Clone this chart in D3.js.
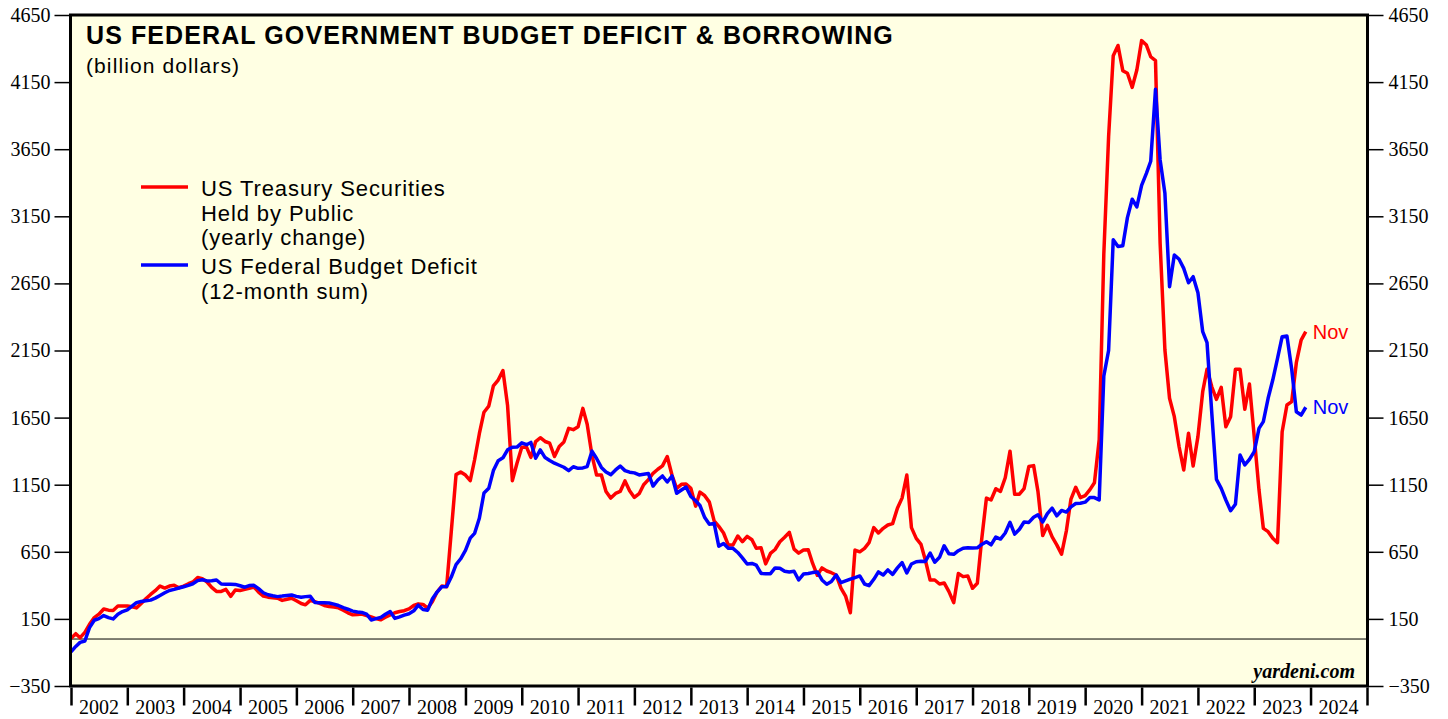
<!DOCTYPE html>
<html>
<head>
<meta charset="utf-8">
<title>US Federal Government Budget Deficit &amp; Borrowing</title>
<style>
  body { margin: 0; background: #fff; }
  .title { font-family: "Liberation Sans", Arial, sans-serif; font-weight: bold; font-size: 25px; letter-spacing: 1.1px; }
  .sub, .legend text, .endlabel { font-family: "Liberation Sans", Arial, sans-serif; }
  .sub { font-size: 21px; letter-spacing: 1.1px; }
  .legend text { font-size: 22px; letter-spacing: 0.9px; }
  .endlabel { font-size: 20px; }
  .axis text, .year { font-family: "Liberation Serif", "Times New Roman", serif; font-size: 20px; fill: #000; }
  .credit { font-family: "Liberation Serif", "Times New Roman", serif; font-weight: bold; font-style: italic; font-size: 20px; }
</style>
</head>
<body>
<script src="https://cdn.jsdelivr.net/npm/d3@7"></script>
<script>
  // monthly values, Dec 2001 .. Nov 2023 (plotted at month end)
  const firstMonth = new Date(2001, 11, 1);

  // US Treasury Securities held by public, yearly change (billion $)
  const treasury = [
    5, 40, 10, 50, 110, 160, 185, 224, 215, 212, 246, 246,
    246, 240, 232, 265, 300, 332, 360, 395, 380, 395, 400, 382,
    395, 412, 425, 458, 450, 425, 385, 355, 355, 370, 318, 365,
    362, 370, 378, 388, 350, 320, 312, 308, 304, 288, 296, 304,
    285, 265, 255, 288, 278, 265, 250, 242, 238, 232, 215, 195,
    180, 182, 186, 175, 165, 152, 143, 162, 180, 196, 205, 211,
    225, 250, 262, 258, 230, 280, 350, 395, 390, 800, 1225, 1245,
    1222, 1180, 1334, 1530, 1690, 1735, 1886, 1930, 2000, 1740, 1180, 1310,
    1429, 1430, 1354, 1471, 1500, 1472, 1459, 1360, 1435, 1468, 1570, 1560,
    1582, 1719, 1600, 1370, 1222, 1222, 1100, 1050, 1085, 1100, 1178, 1105,
    1055, 1083, 1150, 1188, 1235, 1265, 1290, 1360, 1220, 1123, 1153, 1155,
    1123, 990, 1095, 1068, 1020, 880, 840, 790, 700, 701, 768, 725,
    765, 740, 676, 680, 560, 638, 667, 725, 758, 795, 670, 640,
    663, 665, 565, 475, 530, 507, 494, 477, 380, 320, 196, 663,
    650, 676, 718, 830, 790, 825, 850, 860, 975, 1050, 1222, 830,
    750, 705, 589, 440, 440, 410, 418, 353, 271, 488, 465, 470,
    378, 415, 740, 1050, 1036, 1120, 1100, 1202, 1400, 1079, 1079, 1120,
    1285, 1292, 1100, 771, 848, 761, 702, 633, 805, 1043, 1131, 1054,
    1069, 1113, 1164, 1485, 2871, 3743, 4346, 4423, 4235, 4216, 4111, 4240,
    4459, 4426, 4339, 4310, 2949, 2154, 1794, 1657, 1433, 1260, 1533, 1289,
    1508, 1843, 2010, 1880, 1786, 1876, 1582, 1657, 2010, 2010, 1712, 1900,
    1508, 1110, 825, 800, 751, 718, 1545, 1744, 1769, 2059, 2228, 2290
  ];

  // US federal budget deficit, 12-month sum (billion $)
  const deficit = [
    -95, -55, -25, -15, 85, 140, 152, 175, 160, 150, 185, 205,
    218, 245, 271, 280, 285, 290, 305, 325, 345, 362, 370, 380,
    390, 400, 412, 435, 442, 433, 435, 440, 410, 408, 408, 407,
    397, 386, 398, 400, 375, 345, 330, 322, 316, 320, 325, 328,
    318, 311, 316, 318, 272, 271, 271, 269, 260, 250, 234, 222,
    208, 202, 198, 185, 142, 152, 160, 185, 205, 154, 165, 178,
    188, 210, 252, 220, 215, 300, 350, 390, 392, 462, 555, 598,
    660, 752, 787, 900, 1088, 1123, 1255, 1329, 1350, 1410, 1429, 1430,
    1462, 1448, 1465, 1347, 1409, 1352, 1330, 1310, 1295, 1280, 1255, 1284,
    1272, 1275, 1285, 1400, 1345, 1279, 1245, 1225, 1260, 1289, 1255, 1243,
    1238, 1223, 1228, 1233, 1140, 1185, 1215, 1170, 1215, 1086, 1110, 1133,
    1062, 1030, 995, 905, 855, 862, 692, 712, 676, 676, 645, 605,
    559, 563, 550, 489, 487, 487, 530, 528, 505, 500, 505, 440,
    484, 488, 495, 500, 440, 408, 428, 477, 420, 433, 446, 458,
    470, 410, 398, 445, 500, 477, 515, 482, 530, 570, 492, 559,
    576, 580, 578, 640, 572, 609, 695, 635, 631, 658, 676, 680,
    678, 680, 705, 725, 702, 760, 745, 790, 870, 782, 818, 872,
    869, 907, 926, 872, 935, 975, 918, 958, 946, 985, 1010, 1012,
    1020, 1054, 1054, 1036, 1960, 2150, 2975, 2925, 2930, 3140, 3277, 3220,
    3380, 3470, 3560, 4096, 3570, 3321, 2625, 2862, 2830, 2762, 2655, 2700,
    2581, 2290, 2209, 1682, 1190, 1123, 1036, 956, 1004, 1371, 1297, 1339,
    1396, 1570, 1620, 1794, 1930, 2092, 2253, 2258, 2010, 1694, 1669, 1727
  ];

  const yTicks = [-350, 150, 650, 1150, 1650, 2150, 2650, 3150, 3650, 4150, 4650];
  const yearLabels = ["2002", "2003", "2004", "2005", "2006", "2007", "2008", "2009", "2010", "2011", "2012",
    "2013", "2014", "2015", "2016", "2017", "2018", "2019", "2020", "2021", "2022", "2023", "2024"];
  const legendLabels = [
    ["US Treasury Securities", "Held by Public", "(yearly change)"],
    ["US Federal Budget Deficit", "(12-month sum)"]
  ];
  const lastLabel = "Nov";

  const width = 1448, height = 719;
  const plotL = 71, plotR = 1367, plotT = 15, plotB = 686;

  const svg = d3.select("body").append("svg")
    .attr("width", width)
    .attr("height", height);

  const x = d3.scaleTime()
    .domain([new Date(2002, 0, 1), new Date(2025, 0, 1)])
    .range([plotL, plotR]);
  const y = d3.scaleLinear()
    .domain([-350, 4650])
    .range([plotB, plotT]);

  const dateOf = i => d3.timeMonth.offset(firstMonth, i + 1);

  svg.append("rect")
    .attr("x", plotL).attr("y", plotT)
    .attr("width", plotR - plotL).attr("height", plotB - plotT)
    .attr("fill", "#ffffe3");

  svg.append("clipPath").attr("id", "plot")
    .append("rect")
    .attr("x", plotL).attr("y", plotT)
    .attr("width", plotR - plotL).attr("height", plotB - plotT);

  // zero line
  svg.append("line")
    .attr("x1", plotL).attr("x2", plotR)
    .attr("y1", y(0)).attr("y2", y(0))
    .attr("stroke", "#000").attr("stroke-width", 1);

  const line = d3.line()
    .x((d, i) => x(dateOf(i)))
    .y(d => y(d));

  const series = [
    {values: treasury, color: "#ff0000"},
    {values: deficit, color: "#0000ff"}
  ];

  svg.append("g").attr("clip-path", "url(#plot)")
    .selectAll("path")
    .data(series)
    .enter()
    .append("path")
    .attr("d", d => line(d.values))
    .attr("fill", "none")
    .attr("stroke", d => d.color)
    .attr("stroke-width", 3.5)
    .attr("stroke-linejoin", "round");

  // frame
  svg.append("rect")
    .attr("x", plotL - 0.5).attr("y", plotT)
    .attr("width", plotR - plotL + 1).attr("height", plotB - plotT)
    .attr("fill", "none")
    .attr("stroke", "#000")
    .attr("stroke-width", 3);

  // y axes, both sides
  const yl = svg.append("g").attr("class", "axis")
    .attr("transform", "translate(" + (plotL - 1.5) + ",0)")
    .call(d3.axisLeft(y).tickValues(yTicks).tickFormat(d3.format("d")).tickSize(15).tickPadding(4));
  const yr = svg.append("g").attr("class", "axis")
    .attr("transform", "translate(" + (plotR + 1.5) + ",0)")
    .call(d3.axisRight(y).tickValues(yTicks).tickFormat(d3.format("d")).tickSize(15).tickPadding(5));
  [yl, yr].forEach(g => {
    g.select(".domain").remove();
    g.attr("font-size", null).attr("font-family", null);
    g.selectAll(".tick line").attr("stroke", "#000").attr("stroke-width", 1.5);
  });

  // x axis: year ticks, labels centred in each year
  const xa = svg.append("g").attr("class", "axis")
    .attr("transform", "translate(0," + (plotB + 1.5) + ")")
    .call(d3.axisBottom(x).ticks(d3.timeYear.every(1)).tickSize(18).tickFormat(""));
  xa.select(".domain").remove();
  xa.selectAll(".tick line").attr("stroke", "#000").attr("stroke-width", 2.5);

  svg.append("g")
    .selectAll("text")
    .data(yearLabels)
    .enter()
    .append("text")
    .attr("class", "year")
    .attr("x", d => x(new Date(+d, 6, 1)))
    .attr("y", 714)
    .attr("text-anchor", "middle")
    .text(d => d);

  // titles
  svg.append("text").attr("class", "title")
    .attr("x", 86).attr("y", 44)
    .text("US FEDERAL GOVERNMENT BUDGET DEFICIT & BORROWING");
  svg.append("text").attr("class", "sub")
    .attr("x", 86).attr("y", 73)
    .text("(billion dollars)");

  // legend
  const legend = svg.append("g").attr("class", "legend");
  const legendY = [187, 265];
  legendLabels.forEach((lines, i) => {
    legend.append("line")
      .attr("x1", 141).attr("x2", 188)
      .attr("y1", legendY[i]).attr("y2", legendY[i])
      .attr("stroke", series[i].color)
      .attr("stroke-width", 3.5);
    lines.forEach((t, j) => {
      legend.append("text")
        .attr("x", 201)
        .attr("y", legendY[i] + 9 + j * 24.5)
        .text(t);
    });
  });

  // end-of-series labels
  series.forEach(s => {
    const n = s.values.length - 1;
    svg.append("text").attr("class", "endlabel")
      .attr("x", x(dateOf(n)) + 7)
      .attr("y", y(s.values[n]) + 7)
      .attr("fill", s.color)
      .text(lastLabel);
  });

  svg.append("text").attr("class", "credit")
    .attr("x", 1355).attr("y", 678)
    .attr("text-anchor", "end")
    .text("yardeni.com");
</script>
</body>
</html>
